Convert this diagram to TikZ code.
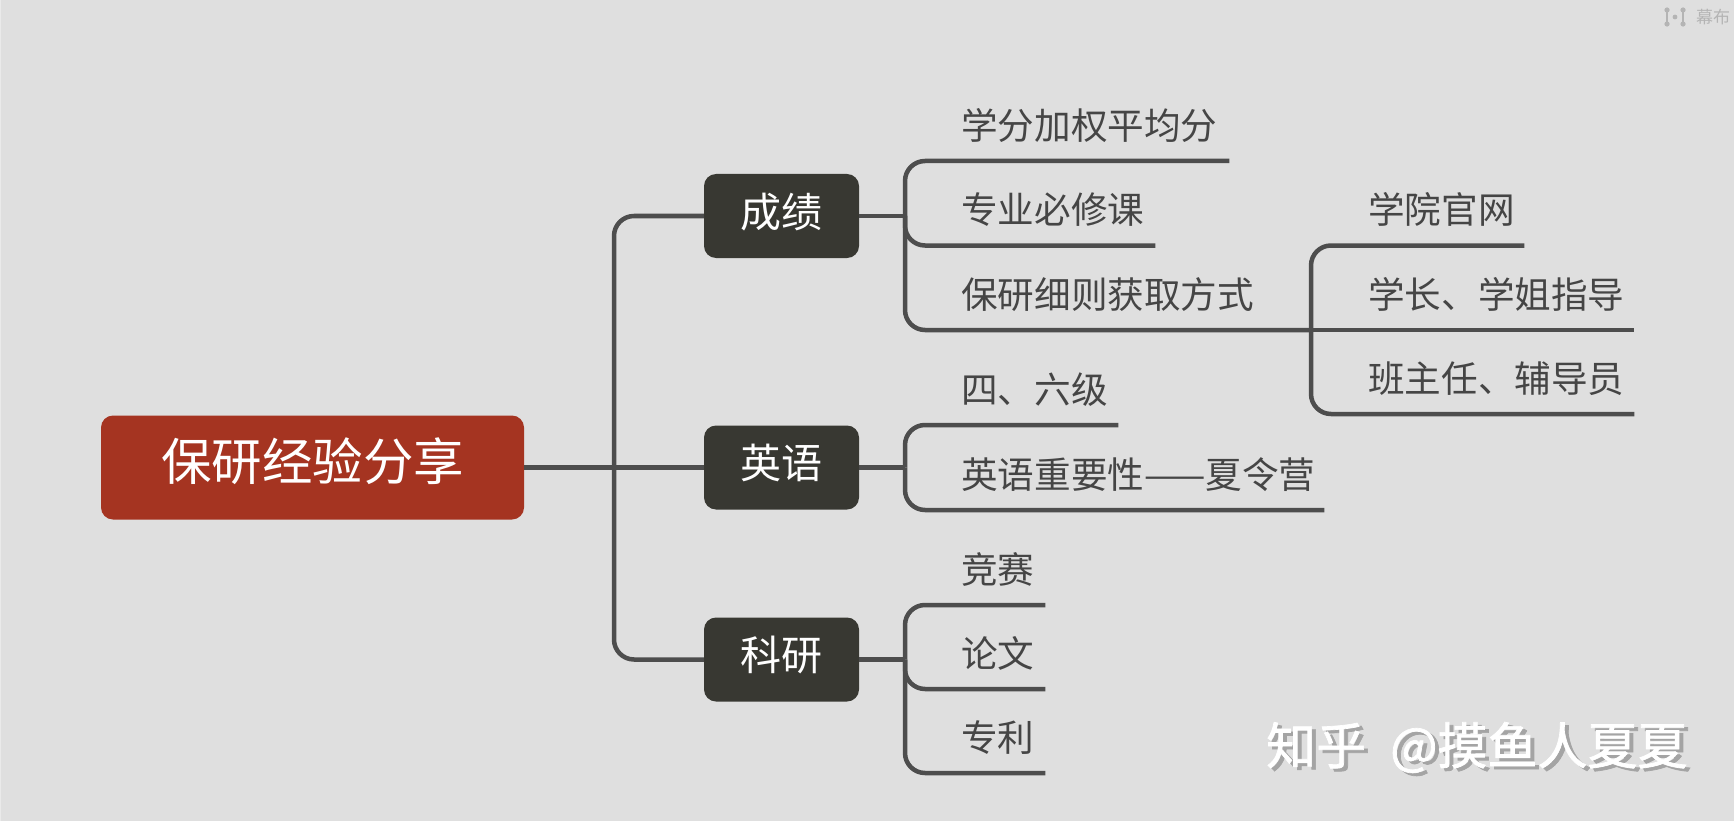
\documentclass[tikz,border=0pt]{standalone}
\usepackage{fontspec}
\setmainfont{Noto Sans CJK SC}
\newfontfamily\wmfont[FakeBold=1.4]{Noto Sans CJK SC}
\definecolor{bgc}{HTML}{DFDFDF}
\definecolor{edgec}{HTML}{EAEAEA}
\definecolor{linec}{HTML}{4D4D4D}
\definecolor{leafc}{HTML}{454545}
\definecolor{rootc}{HTML}{A53421}
\definecolor{topicc}{HTML}{383832}
\definecolor{logoc}{HTML}{B4B4B4}
\definecolor{shadc}{HTML}{A4A4A4}
\newcommand{\wmtext}{知乎\hspace{24pt}@摸鱼人夏夏}
\tikzset{
  x=1pt,y=-1pt,
  conn/.style={draw=linec,line width=4.5pt,line cap=butt},
  curved/.style={conn,rounded corners=20pt},
  rootbox/.style={fill=rootc,rounded corners=12pt,text=white,minimum width=423pt,minimum height=104pt,inner sep=0pt,text height=40pt,text depth=14pt,font=\fontsize{50.5}{56}\selectfont},
  topicbox/.style={fill=topicc,rounded corners=12pt,text=white,minimum width=155pt,minimum height=84pt,inner sep=0pt,text height=32pt,text depth=10pt,font=\fontsize{41}{46}\selectfont},
  leaf/.style={anchor=south west,inner sep=0pt,align=left,text width=#1,minimum height=72pt,text height=32pt,text depth=3pt,text=leafc,font=\fontsize{36.6}{42}\selectfont},
  wm/.style={inner sep=0pt,anchor=west,text=white,font=\fontsize{50}{56}\selectfont\wmfont},
  logotxt/.style={inner sep=0pt,text=logoc,font=\fontsize{17}{19}\selectfont},
  logodot/.style={fill=logoc,draw=none},
}
\begin{document}
\begin{tikzpicture}
\useasboundingbox (0,0) rectangle (1734,821);
\fill[bgc] (0,0) rectangle (1734,821);
\fill[edgec] (0,0) rectangle (1.2,821);

% central nodes
\node[rootbox] (root) at (312.5,467.5) {保研经验分享};
\node[topicbox] (cj) at (781.5,216) {成绩};
\node[topicbox] (yy) at (781.5,467.5) {英语};
\node[topicbox] (ky) at (781.5,659.5) {科研};

% leaves (node bottom edge = underline)
\node[leaf=268pt] (a1) at (961,161) {学分加权平均分};
\node[leaf=194pt] (a2) at (961,245.5) {专业必修课};
\node[leaf=350pt] (a3) at (961,330) {保研细则获取方式};
\node[leaf=156pt] (a4) at (1368,245.5) {学院官网};
\node[leaf=266pt] (a5) at (1368,330) {学长、学姐指导};
\node[leaf=266pt] (a6) at (1368,414) {班主任、辅导员};
\node[leaf=157pt] (b1) at (961,425) {四、六级};
\node[leaf=363pt] (b2) at (961,510) {英语重要性——夏令营};
\node[leaf=84pt] (c1) at (961,605) {竞赛};
\node[leaf=84pt] (c2) at (961,689) {论文};
\node[leaf=84pt] (c3) at (961,773) {专利};

% junctions
\coordinate (j0) at (614,467.5);
\coordinate (j1) at (905,216);
\coordinate (j2) at (905,467.5);
\coordinate (j3) at (905,659.5);
\coordinate (j4) at (1311,330);

% root to topics
\draw[conn] (root.east) -- (yy.west);
\draw[curved] (j0) |- (cj.west);
\draw[curved] (j0) |- (ky.west);

% topics to leaves
\draw[conn] (cj.east) -- (j1);
\draw[curved] (j1) |- (a1.south east);
\draw[curved] (j1) |- (a2.south east);
\draw[curved] (j1) |- (a3.south east);
\draw[conn] (yy.east) -- (j2);
\draw[curved] (j2) |- (b1.south east);
\draw[curved] (j2) |- (b2.south east);
\draw[conn] (ky.east) -- (j3);
\draw[curved] (j3) |- (c1.south east);
\draw[curved] (j3) |- (c2.south east);
\draw[curved] (j3) |- (c3.south east);

% sub branch
\draw[curved] (j4) |- (a4.south east);
\draw[conn] (j4) -- (a5.south east);
\draw[curved] (j4) |- (a6.south east);

% logo
\draw[logoc,line width=1.5pt] (1667,10) -- (1667,24) (1683,10) -- (1683,24);
\foreach \p in {(1667,10),(1667,24),(1683,10),(1683,24)} \fill[logodot] \p circle (2.6pt);
\fill[logodot] (1675,17) circle (2.4pt);
\node[logotxt,anchor=west] (logo) at (1696,17) {幕布};

% watermark: white text with its grey drop shadow
\node[wm] (wmark) at (1266,749) {\makebox[0pt][l]{\hspace{4pt}\raisebox{-3pt}{\textcolor{shadc}{\wmtext}}}\wmtext};
\end{tikzpicture}
\end{document}
